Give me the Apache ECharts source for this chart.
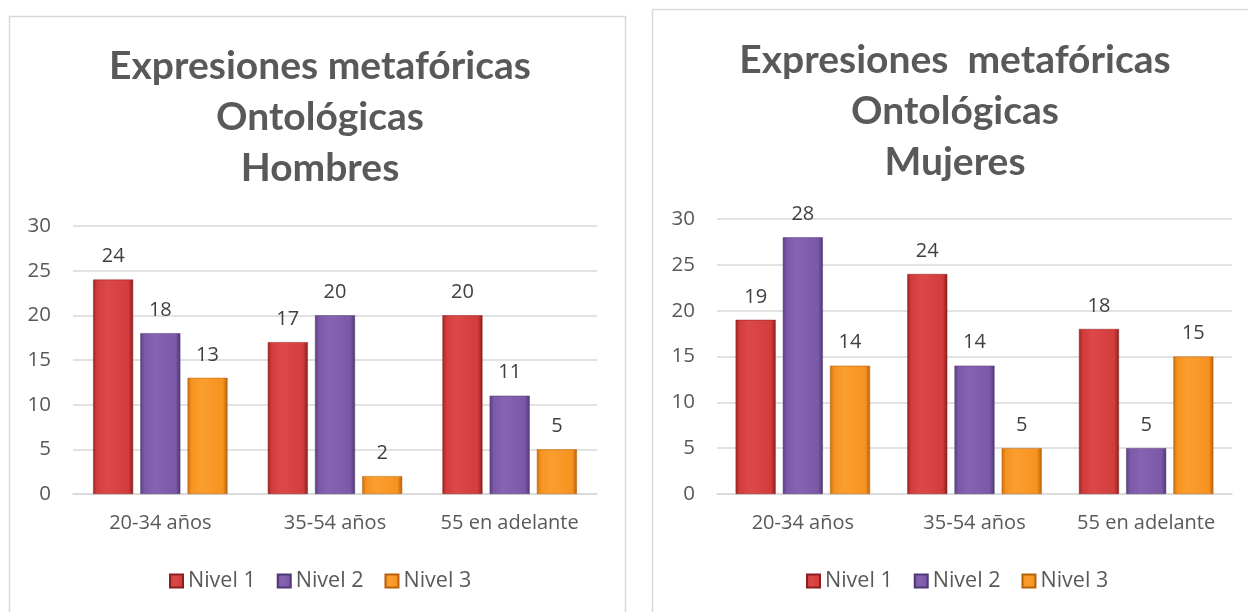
<!DOCTYPE html>
<html>
<head>
<meta charset="utf-8">
<script src="https://cdn.jsdelivr.net/npm/echarts@6/dist/echarts.min.js"></script>
<style>
html,body{margin:0;padding:0;background:#fff;}
#c{width:1248px;height:612px;}
</style>
</head>
<body>
<div id="c"></div>
<script>
// ---- data ----
const categories = ['20-34 años', '35-54 años', '55 en adelante'];
const seriesNames = ['Nivel 1', 'Nivel 2', 'Nivel 3'];
const hombresNivel1 = [24, 17, 20];
const hombresNivel2 = [18, 20, 11];
const hombresNivel3 = [13, 2, 5];
const mujeresNivel1 = [19, 24, 18];
const mujeresNivel2 = [28, 14, 5];
const mujeresNivel3 = [14, 5, 15];
const yTicks = [0, 5, 10, 15, 20, 25, 30];
const titleHombres = 'Expresiones metafóricas\nOntológicas\nHombres';
const titleMujeres = 'Expresiones  metafóricas\nOntológicas\nMujeres';

const FONT = '"Open Sans", sans-serif';
const TFONT = 'Lato, "Open Sans", sans-serif';
const palette = [
  {edgeL: '#9c2626', mid: '#d43c3c', hi: '#dc4848', edgeR: '#8a1f1f'},
  {edgeL: '#58407f', mid: '#7c59a8', hi: '#8664b2', edgeR: '#4f3873'},
  {edgeL: '#c96d12', mid: '#f7931f', hi: '#fb9e30', edgeR: '#b8600c'}
];
function grad(p) {
  return new echarts.graphic.LinearGradient(0, 0, 1, 0, [
    {offset: 0, color: p.edgeL},
    {offset: 0.1, color: p.mid},
    {offset: 0.35, color: p.hi},
    {offset: 0.88, color: p.mid},
    {offset: 1, color: p.edgeR}
  ]);
}

const chart = echarts.init(document.getElementById('c'), null, {renderer: 'canvas'});

function makeAxes(idx) {
  return {
    x: {
      type: 'category', gridIndex: idx, data: categories,
      axisLine: {lineStyle: {color: '#d9d9d9', width: 1.5}},
      axisTick: {show: false},
      axisLabel: {color: '#595959', fontSize: 20, fontFamily: FONT, margin: 19, interval: 0, hideOverlap: false}
    },
    y: {
      type: 'value', gridIndex: idx, min: yTicks[0], max: yTicks[yTicks.length - 1], interval: 5,
      axisLine: {show: false}, axisTick: {show: false},
      splitLine: {lineStyle: {color: '#d9d9d9', width: 1.5}},
      axisLabel: {color: '#595959', fontSize: 20.5, fontFamily: FONT, margin: 22}
    }
  };
}
const a0 = makeAxes(0), a1 = makeAxes(1);

function barSeries(name, data, gi, i) {
  return {
    name: name, type: 'bar', xAxisIndex: gi, yAxisIndex: gi, data: data,
    barWidth: 40, barGap: '18%',
    itemStyle: {color: grad(palette[i]), borderColor: palette[i].edgeR, borderWidth: 0.5},
    label: {show: true, position: 'top', distance: 13, color: '#404040', fontSize: 20, fontFamily: FONT},
    emphasis: {disabled: true}
  };
}

const legendCommon = {
  data: seriesNames.map((n, i) => ({name: n, itemStyle: {color: grad(palette[i])}})),
  itemWidth: 13, itemHeight: 13, itemGap: 21, icon: 'rect',
  textStyle: {color: '#595959', fontSize: 21.5, fontFamily: FONT}
};

chart.setOption({
  backgroundColor: '#ffffff',
  animation: false,
  title: [
    {text: titleHombres, left: 315, top: 36, textAlign: 'center',
     textStyle: {color: '#595959', fontSize: 39, fontWeight: 'bold', fontFamily: TFONT, lineHeight: 51}},
    {text: titleMujeres, left: 950, top: 30, textAlign: 'center',
     textStyle: {color: '#595959', fontSize: 39, fontWeight: 'bold', fontFamily: TFONT, lineHeight: 51}}
  ],
  legend: [
    Object.assign({top: 565}, legendCommon, {left: 164}),
    Object.assign({top: 565}, legendCommon, {left: 801})
  ],
  grid: [
    {left: 73, right: 651, top: 226, bottom: 118},
    {left: 717, right: 16, top: 219, bottom: 118}
  ],
  xAxis: [a0.x, a1.x],
  yAxis: [a0.y, a1.y],
  graphic: [
    {type: 'rect', shape: {x: 9.5, y: 16.5, width: 616, height: 620}, style: {fill: null, stroke: '#d9d9d9', lineWidth: 1.5}, silent: true, z: -1},
    {type: 'rect', shape: {x: 652.5, y: 9.5, width: 620, height: 620}, style: {fill: null, stroke: '#d9d9d9', lineWidth: 1.5}, silent: true, z: -1}
  ],
  series: [
    barSeries('Nivel 1', hombresNivel1, 0, 0),
    barSeries('Nivel 2', hombresNivel2, 0, 1),
    barSeries('Nivel 3', hombresNivel3, 0, 2),
    barSeries('Nivel 1', mujeresNivel1, 1, 0),
    barSeries('Nivel 2', mujeresNivel2, 1, 1),
    barSeries('Nivel 3', mujeresNivel3, 1, 2)
  ]
});
</script>
</body>
</html>
